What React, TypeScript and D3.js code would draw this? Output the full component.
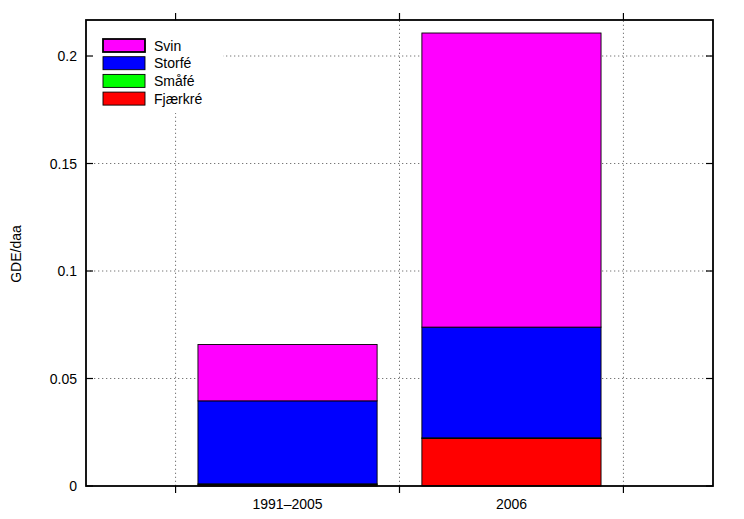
import React from "react";
import * as d3 from "d3";

const categories = ["1991–2005", "2006"];
const seriesNames = ["Fjærkré", "Småfé", "Storfé", "Svin"];
const seriesColors = ["#ff0000", "#00ff00", "#0000ff", "#ff00ff"];
const fjaerkre = [0.0007, 0.0221];
const smaafe = [0.0003, 0.0003];
const storfe = [0.0386, 0.0515];
const svin = [0.0262, 0.1368];
const yTicks = [0, 0.05, 0.1, 0.15, 0.2];
const yTickLabels = ["0", "0.05", "0.1", "0.15", "0.2"];
const xGridTicks = [0.5, 1.5, 2.5];
const legendOrder = ["Svin", "Storfé", "Småfé", "Fjærkré"];

const W = 744;
const H = 519;
const M = { left: 86, right: 31, top: 20, bottom: 33 };

export default function App() {
  const x = d3.scaleLinear().domain([0.1, 2.9]).range([M.left, W - M.right]);
  const y = d3.scaleLinear().domain([0, 0.21675]).range([H - M.bottom, M.top]);
  const values = [fjaerkre, smaafe, storfe, svin];
  const rows = categories.map((c, i) => {
    const r: any = { cat: c, idx: i + 1 };
    seriesNames.forEach((s, k) => (r[s] = values[k][i]));
    return r;
  });
  const stack = d3.stack<any>().keys(seriesNames)(rows);
  const barW = 0.8;
  const font = "'Liberation Sans', Arial, Helvetica, sans-serif";
  const fs = 14;
  const x0 = M.left, x1 = W - M.right, y0 = H - M.bottom, y1 = M.top;
  const colorOf = (n: string) => seriesColors[seriesNames.indexOf(n)];

  return (
    <svg width={W} height={H} style={{ position: "absolute", left: 0, top: 0, background: "#fff" }} fontFamily={font}>
      <rect x={0} y={0} width={W} height={H} fill="#fff" />
      {/* grid */}
      {yTicks.slice(1).map((t) => (
        <line key={"gy" + t} x1={x0} x2={x1} y1={y(t)} y2={y(t)} stroke="#777" strokeWidth={1} strokeDasharray="1.3,2.7" />
      ))}
      {xGridTicks.map((t) => (
        <line key={"gx" + t} x1={x(t)} x2={x(t)} y1={y0} y2={y1} stroke="#777" strokeWidth={1} strokeDasharray="1.3,2.7" />
      ))}
      {/* bars */}
      {stack.map((layer) =>
        layer.map((d, i) => {
          const cx = rows[i].idx;
          return (
            <rect
              key={layer.key + i}
              x={x(cx - barW / 2)}
              width={x(cx + barW / 2) - x(cx - barW / 2)}
              y={y(d[1])}
              height={Math.max(0, y(d[0]) - y(d[1]))}
              fill={colorOf(layer.key)}
              stroke="#000"
              strokeWidth={0.9}
            />
          );
        })
      )}
      {/* legend background */}
      <rect x={x0 + 1} y={y1 + 1} width={136} height={92} fill="#fff" />
      {legendOrder.map((n, i) => (
        <g key={n} transform={`translate(103, ${39 + i * 17.7})`}>
          <rect x={0} y={0} width={42} height={13} fill={colorOf(n)} stroke="#000" strokeWidth={i === 0 ? 1.8 : 0.9} />
          <text x={51} y={11.5} fontSize={fs} fill="#000">{n}</text>
        </g>
      ))}
      {/* frame */}
      <rect x={x0} y={y1} width={x1 - x0} height={y0 - y1} fill="none" stroke="#000" strokeWidth={1.8} />
      {/* y ticks (inward on both sides) */}
      {yTicks.map((t, i) => (
        <g key={"yt" + t}>
          <line x1={x0} x2={x0 + 7} y1={y(t)} y2={y(t)} stroke="#000" strokeWidth={1.2} />
          <line x1={x1} x2={x1 - 7} y1={y(t)} y2={y(t)} stroke="#000" strokeWidth={1.2} />
          <text x={77} y={y(t) + 5} textAnchor="end" fontSize={fs} fill="#000">{yTickLabels[i]}</text>
        </g>
      ))}
      {/* x ticks (outward top and bottom) */}
      {xGridTicks.map((t) => (
        <g key={"xt" + t}>
          <line x1={x(t)} x2={x(t)} y1={y0} y2={y0 + 7} stroke="#000" strokeWidth={1.2} />
          <line x1={x(t)} x2={x(t)} y1={y1} y2={y1 - 7} stroke="#000" strokeWidth={1.2} />
        </g>
      ))}
      {categories.map((c, i) => (
        <text key={c} x={x(i + 1)} y={509} textAnchor="middle" fontSize={fs} fill="#000">{c}</text>
      ))}
      <text transform={`translate(21, ${(y0 + y1) / 2 + 1}) rotate(-90)`} textAnchor="middle" fontSize={fs} fill="#000">GDE/daa</text>
    </svg>
  );
}
